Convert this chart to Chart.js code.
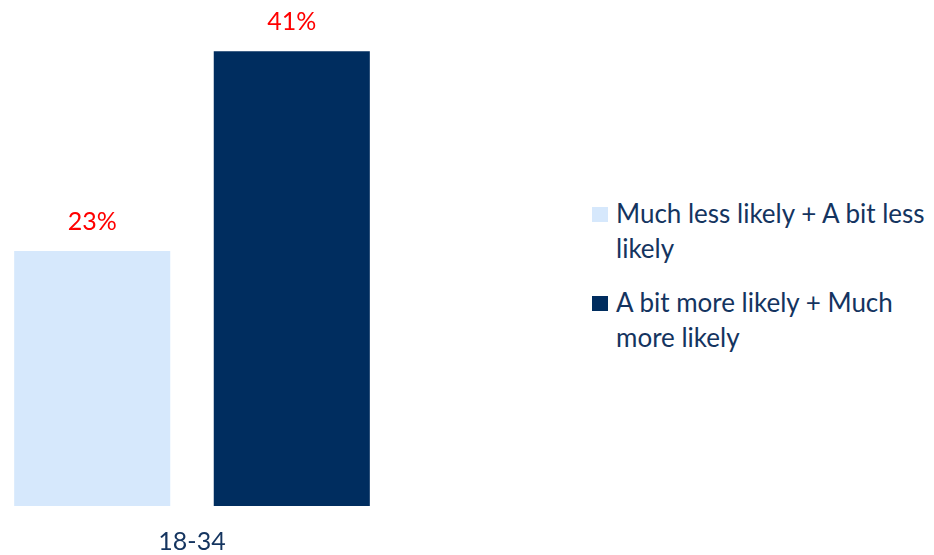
<!DOCTYPE html>
<html>
<head>
<meta charset="utf-8">
<script src="https://cdn.jsdelivr.net/npm/chart.js@4"></script>
<style>
  body { margin: 0; background: #fff; width: 934px; height: 555px; overflow: hidden; position: relative; font-family: Lato, "Open Sans", sans-serif; }
  #wrap { position: absolute; left: -10px; top: 0; width: 404px; height: 578px; }
  #legend { position: absolute; left: 592px; top: 196px; width: 342px; color: #14345f; font-size: 26px; line-height: 35px; }
  .item { display: flex; align-items: flex-start; margin-bottom: 19px; }
  .box { width: 16px; height: 15px; flex: none; margin-top: 11px; margin-right: 8px; }
</style>
</head>
<body>
<div id="wrap"><canvas id="myChart"></canvas></div>
<div id="legend"></div>
<script>
// data
const categories = ["18-34"];
const series_names = ["Much less likely + A bit less likely", "A bit more likely + Much more likely"];
const less_likely = [23];
const more_likely = [41];
const colors = ["#d6e8fc", "#002d5f"];

const label_plugin = {
    id: "bar_labels",
    afterDatasetsDraw(chart) {
        const ctx = chart.ctx;
        ctx.save();
        ctx.fillStyle = "#ff0000";
        ctx.font = "25px Lato";
        ctx.textAlign = "center";
        ctx.textBaseline = "bottom";
        chart.data.datasets.forEach((ds, i) => {
            chart.getDatasetMeta(i).data.forEach((bar, j) => {
                ctx.fillText(ds.data[j] + "%", bar.x, bar.y - 17);
            });
        });
        ctx.restore();
    },
};

const ctx = document.getElementById("myChart").getContext("2d");
let my_chart = new Chart(ctx, {
    type: "bar",
    data: {
        labels: categories,
        datasets: [
            { label: series_names[0], data: less_likely, backgroundColor: colors[0] },
            { label: series_names[1], data: more_likely, backgroundColor: colors[1] },
        ],
    },
    options: {
        responsive: true,
        maintainAspectRatio: false,
        animation: false,
        layout: { padding: { top: 7, left: 0, right: 0, bottom: 0 } },
        categoryPercentage: 0.988,
        barPercentage: 0.782,
        plugins: { legend: { display: false }, tooltip: { enabled: false } },
        scales: {
            x: {
                grid: { display: false, drawTicks: false },
                border: { display: false },
                ticks: { color: "#14345f", font: { family: "Lato", size: 25 }, padding: 21 },
            },
            y: { display: false, min: 0, max: 45 },
        },
    },
    plugins: [label_plugin],
});

// html legend so the names can wrap like the original
const legend = document.getElementById("legend");
my_chart.data.datasets.forEach((ds) => {
    const item = document.createElement("div");
    item.className = "item";
    const box = document.createElement("span");
    box.className = "box";
    box.style.background = ds.backgroundColor;
    const txt = document.createElement("span");
    txt.innerText = ds.label;
    item.appendChild(box);
    item.appendChild(txt);
    legend.appendChild(item);
});
</script>
</body>
</html>
